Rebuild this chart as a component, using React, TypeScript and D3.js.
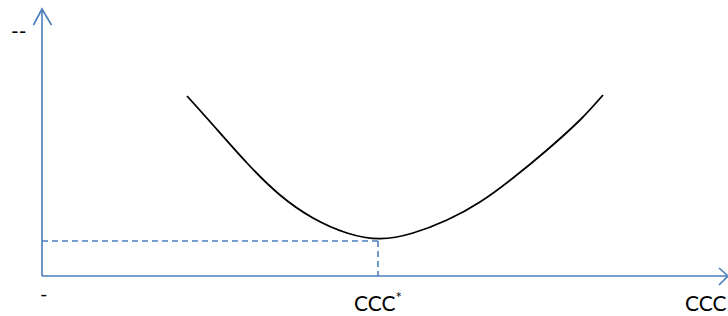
import React from "react";
import * as d3 from "d3";

const curveX = [145, 171, 205, 238, 271, 305, 338, 371, 405, 438, 471, 505, 538, 561];
const curveY = [180, 151, 113, 81, 58, 43, 37.3, 43, 56, 74, 98, 126, 156, 181];
const optX = [336];
const optY = [35];
const labels = ["--", "-", "CCC", "CCC", "*"];

const W = 728;
const H = 316;

export default function App() {
  const x = d3.scaleLinear().domain([0, 684]).range([42, 726]);
  const y = d3.scaleLinear().domain([0, 266]).range([276, 10]);
  const pts = curveX.map((v, i) => [x(v), y(curveY[i])] as [number, number]);
  const line = d3.line().curve(d3.curveNatural)(pts) || "";
  const axis = "#4A7EBB";
  const font = "Lato, 'Open Sans', sans-serif";
  const ox = x(optX[0]);
  const oy = y(optY[0]);
  return (
    <svg width={W} height={H} style={{ position: "absolute", left: 0, top: 0 }}>
      <rect width={W} height={H} fill="#fff" />
      {/* axes */}
      <line x1={x(0)} y1={y(0)} x2={x(0)} y2={9} stroke={axis} strokeWidth={1.6} />
      <line x1={x(0)} y1={y(0)} x2={727} y2={y(0)} stroke={axis} strokeWidth={1.6} />
      <polyline points={`33.5,25 42,9 51.5,25`} fill="none" stroke={axis} strokeWidth={1.6} />
      <polyline points={`719,268 728,276 719,285`} fill="none" stroke={axis} strokeWidth={1.6} />
      {/* dashed guides */}
      <line x1={x(0)} y1={oy} x2={ox} y2={oy} stroke={axis} strokeWidth={1.6} strokeDasharray="6,4" />
      <line x1={ox} y1={oy} x2={ox} y2={y(0)} stroke={axis} strokeWidth={1.6} strokeDasharray="6,4" />
      {/* curve */}
      <path d={line} fill="none" stroke="#000" strokeWidth={1.8} />
      {/* labels */}
      <text x={11} y={39} fontFamily={font} fontSize={21} fill="#000">{labels[0]}</text>
      <text x={40} y={301} fontFamily={font} fontSize={20} fill="#000">{labels[1]}</text>
      <text x={354} y={311} fontFamily={font} fontSize={21} fill="#000">
        {labels[2]}
        <tspan fontSize={15} dy={-8}>{labels[4]}</tspan>
      </text>
      <text x={685} y={311} fontFamily={font} fontSize={21} fill="#000">{labels[3]}</text>
    </svg>
  );
}
